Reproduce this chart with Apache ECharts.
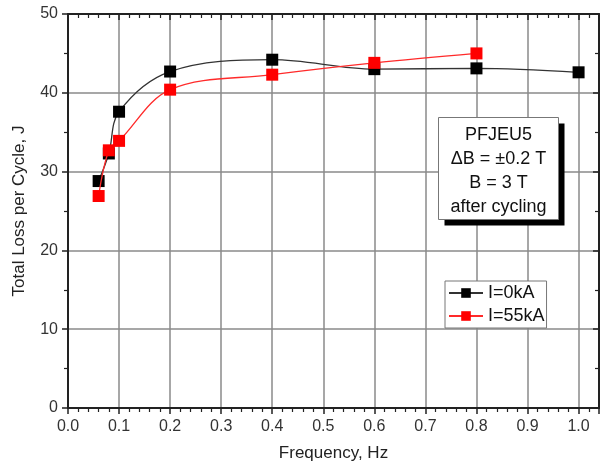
<!DOCTYPE html>
<html>
<head>
<meta charset="utf-8">
<script src="https://cdn.jsdelivr.net/npm/echarts@6/dist/echarts.min.js"></script>
<style>
  html, body { margin: 0; padding: 0; background: #fff; }
  #chart { width: 600px; height: 469px; }
</style>
</head>
<body>
<div id="chart"></div>
<script>
// data
var freq0 = [0.06, 0.08, 0.1, 0.2, 0.4, 0.6, 0.8, 1.0]
var loss0 = [28.8, 32.3, 37.6, 42.7, 44.2, 43.0, 43.1, 42.6]
var freq55 = [0.06, 0.08, 0.1, 0.2, 0.4, 0.6, 0.8]
var loss55 = [26.9, 32.7, 33.9, 40.4, 42.3, 43.8, 45.0]
var noteLines = ['PFJEU5', 'ΔB = ±0.2 T', 'B = 3 T', 'after cycling']

var FONT = 'Liberation Sans'

function pairs(xs, ys) {
  return xs.map(function (x, i) { return [x, ys[i]] })
}

var chart = echarts.init(document.getElementById('chart'))

var gridLine = { show: true, lineStyle: { color: '#8a8a8a', width: 1.5 } }
var axisLine = { show: true, onZero: false, lineStyle: { color: '#222', width: 2 } }

chart.setOption({
  animation: false,
  backgroundColor: '#fff',
  grid: { left: 68, top: 14, right: 1, bottom: 61 },
  legend: {
    left: 445,
    top: 281,
    orient: 'vertical',
    itemWidth: 34,
    itemHeight: 12,
    itemGap: 5,
    padding: [3, 2, 3, 3],
    borderColor: '#777',
    borderWidth: 1,
    backgroundColor: '#fff',
    z: 20,
    textStyle: { fontFamily: FONT, fontSize: 18, color: '#111' },
    data: ['I=0kA', 'I=55kA']
  },
  xAxis: [{
    type: 'value',
    min: 0,
    max: 1.04,
    interval: 0.1,
    name: 'Frequency, Hz',
    nameLocation: 'middle',
    nameGap: 37,
    nameTextStyle: { fontFamily: FONT, fontSize: 17, color: '#222' },
    axisLine: axisLine,
    axisTick: { show: true, length: 6, lineStyle: { color: '#222', width: 1.5 } },
    minorTick: { show: true, splitNumber: 5, length: 4, lineStyle: { color: '#222', width: 1.2 } },
    axisLabel: {
      fontFamily: FONT, fontSize: 16, color: '#333', margin: 11, showMaxLabel: false,
      formatter: function (v) { return v.toFixed(1) }
    },
    splitLine: gridLine
  }, {
    type: 'value',
    position: 'top',
    min: 0,
    max: 1.04,
    interval: 0.1,
    axisLine: axisLine,
    axisTick: { show: true, inside: true, length: 6, lineStyle: { color: '#222', width: 1.5 } },
    minorTick: { show: true, splitNumber: 5, length: 4, lineStyle: { color: '#222', width: 1.2 } },
    axisLabel: { show: false },
    splitLine: { show: false }
  }],
  yAxis: [{
    type: 'value',
    min: 0,
    max: 50,
    interval: 10,
    name: 'Total Loss per Cycle, J',
    nameLocation: 'middle',
    nameGap: 40,
    nameTextStyle: { fontFamily: FONT, fontSize: 17, color: '#222' },
    axisLine: axisLine,
    axisTick: { show: true, length: 6, lineStyle: { color: '#222', width: 1.5 } },
    minorTick: { show: true, splitNumber: 2, length: 4, lineStyle: { color: '#222', width: 1.2 } },
    axisLabel: { fontFamily: FONT, fontSize: 16, color: '#333', margin: 10 },
    splitLine: gridLine
  }, {
    type: 'value',
    position: 'right',
    min: 0,
    max: 50,
    interval: 10,
    axisLine: axisLine,
    axisTick: { show: true, inside: true, length: 6, lineStyle: { color: '#222', width: 1.5 } },
    minorTick: { show: true, splitNumber: 2, length: 4, lineStyle: { color: '#222', width: 1.2 } },
    axisLabel: { show: false },
    splitLine: { show: false }
  }],
  series: [{
    name: 'I=0kA',
    type: 'line',
    data: pairs(freq0, loss0),
    smooth: 0.35,
    symbol: 'rect',
    symbolSize: 12,
    itemStyle: { color: '#000' },
    lineStyle: { color: '#333', width: 1.3 },
    z: 3
  }, {
    name: 'I=55kA',
    type: 'line',
    data: pairs(freq55, loss55),
    smooth: 0.35,
    symbol: 'rect',
    symbolSize: 12,
    itemStyle: { color: '#ff0000' },
    lineStyle: { color: '#ff2a2a', width: 1.3 },
    z: 4
  }],
  graphic: [{
    type: 'group',
    left: 438,
    top: 117,
    z: 100,
    children: [{
      type: 'rect',
      z: 100,
      shape: { x: 6, y: 6, width: 120, height: 102 },
      style: { fill: '#000' }
    }, {
      type: 'rect',
      z: 101,
      shape: { x: 0, y: 0, width: 120, height: 102 },
      style: { fill: '#fff', stroke: '#777', lineWidth: 1 }
    }, {
      type: 'text',
      z: 102,
      x: 60,
      y: 6,
      style: {
        text: noteLines.join('\n'),
        align: 'center',
        fontFamily: FONT,
        fontSize: 18,
        lineHeight: 24,
        fill: '#111'
      }
    }]
  }]
})
</script>
</body>
</html>
